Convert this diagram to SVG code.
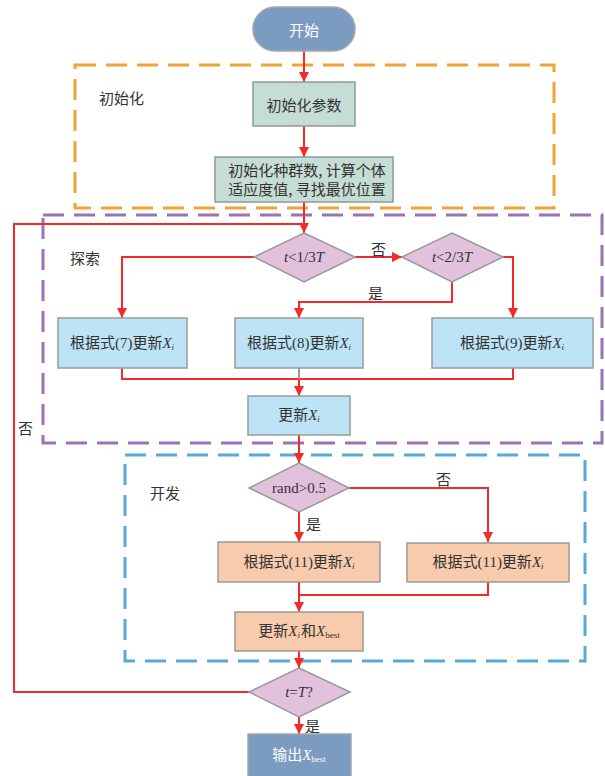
<svg xmlns="http://www.w3.org/2000/svg" width="605" height="776" viewBox="0 0 605 776">
<defs>
<marker id="arr" viewBox="0 0 10 10" refX="10" refY="5" markerWidth="10" markerHeight="10" markerUnits="userSpaceOnUse" orient="auto">
<path d="M0,0 L10,5 L0,10 z" fill="#f22a2a"/>
</marker>
<style>
text{font-family:"Liberation Serif","Noto Sans CJK SC",serif;font-size:15px;fill:#333;text-anchor:middle;dominant-baseline:central}
.lbl{font-family:"Noto Sans CJK SC",sans-serif;font-size:15px;text-anchor:start}
.cn{font-family:"Noto Sans CJK SC",sans-serif}
.it{font-style:italic}
.sub{font-size:9px}
.w{fill:#fff}
.term{fill:#7b9bc0;stroke:#a6a6a6;stroke-width:1.5}
.green{fill:#c6ddd5;stroke:#8e9a96;stroke-width:1.5}
.blue{fill:#bde3f6;stroke:#9a9a9a;stroke-width:1.5}
.orange{fill:#f7cbac;stroke:#9a9a9a;stroke-width:1.5}
.dia{fill:#e2c1dd;stroke:#9a9a9a;stroke-width:1.5}
.frame{fill:none;stroke-width:3;stroke-dasharray:21 10}
.c{fill:none;stroke:#f22a2a;stroke-width:2}
</style>
</defs>
<rect width="605" height="776" fill="#fff"/>

<g id="frames">
<rect x="75" y="65" width="479" height="143" class="frame" stroke="#f0a434"/>
<rect x="43" y="215" width="559" height="228" class="frame" stroke="#9b73b4"/>
<rect x="125" y="455" width="460" height="206" class="frame" stroke="#56abd6"/>
<text class="lbl" x="99" y="97">初始化</text>
<text class="lbl" x="70" y="257">探索</text>
<text class="lbl" x="150" y="492">开发</text>
</g>

<g id="connectors">
<line x1="304" y1="51" x2="304" y2="82" class="c" marker-end="url(#arr)"/>
<line x1="304" y1="126" x2="304" y2="157" class="c" marker-end="url(#arr)"/>
<line x1="304" y1="202" x2="304" y2="233" class="c" marker-end="url(#arr)"/>
<polyline points="249,692 14,692 14,224 304,224" class="c"/>
<polyline points="254,257 122,257 122,318" class="c" marker-end="url(#arr)"/>
<line x1="355" y1="257" x2="402" y2="257" class="c" marker-end="url(#arr)"/>
<polyline points="452,282 452,302 299,302 299,318" class="c" marker-end="url(#arr)"/>
<polyline points="503,257 513,257 513,318" class="c" marker-end="url(#arr)"/>
<polyline points="122,368 122,379 513,379 513,368" class="c"/>
<line x1="299" y1="368" x2="299" y2="379" stroke="#9a9a9a" stroke-width="2"/>
<line x1="299" y1="379" x2="299" y2="396" class="c" marker-end="url(#arr)"/>
<line x1="299" y1="435" x2="299" y2="463" class="c" marker-end="url(#arr)"/>
<line x1="299" y1="512" x2="299" y2="542" class="c" marker-end="url(#arr)"/>
<polyline points="349,488 488,488 488,542" class="c" marker-end="url(#arr)"/>
<polyline points="299,582 299,595 488,595 488,582" class="c"/>
<line x1="299" y1="595" x2="299" y2="612" class="c" marker-end="url(#arr)"/>
<line x1="299" y1="651" x2="299" y2="668" class="c" marker-end="url(#arr)"/>
<line x1="299" y1="717" x2="299" y2="734" class="c" marker-end="url(#arr)"/>
<text class="lbl" x="371" y="248">否</text>
<text class="lbl" x="368" y="292">是</text>
<text class="lbl" x="436" y="478">否</text>
<text class="lbl" x="306" y="523">是</text>
<text class="lbl" x="18" y="427">否</text>
<text class="lbl" x="305" y="725">是</text>
</g>

<g id="start">
<rect x="253" y="7" width="102" height="44" rx="22" class="term"/>
<text x="304" y="29" class="cn w">开始</text>
</g>
<g id="init-params">
<rect x="253" y="82" width="102" height="44" class="green"/>
<text x="304" y="104" class="cn">初始化参数</text>
</g>
<g id="init-pop">
<rect x="215" y="157" width="178" height="45" class="green"/>
<text x="307" y="169" class="cn">初始化种群数, 计算个体</text>
<text x="307" y="188" class="cn">适应度值, 寻找最优位置</text>
</g>
<g id="d1">
<polygon points="304,233 355,257 304,282 254,257" class="dia"/>
<text x="304" y="257"><tspan class="it">t</tspan>&lt;1/3<tspan class="it">T</tspan></text>
</g>
<g id="d2">
<polygon points="452,233 503,257 452,282 402,257" class="dia"/>
<text x="452" y="257"><tspan class="it">t</tspan>&lt;2/3<tspan class="it">T</tspan></text>
</g>
<g id="u7">
<rect x="58" y="318" width="129" height="50" class="blue"/>
<text x="122" y="343">根据式(7)更新<tspan class="it">X</tspan><tspan class="it sub" dy="4">i</tspan></text>
</g>
<g id="u8">
<rect x="235" y="318" width="128" height="50" class="blue"/>
<text x="299" y="343">根据式(8)更新<tspan class="it">X</tspan><tspan class="it sub" dy="4">i</tspan></text>
</g>
<g id="u9">
<rect x="432" y="318" width="161" height="50" class="blue"/>
<text x="512" y="343">根据式(9)更新<tspan class="it">X</tspan><tspan class="it sub" dy="4">i</tspan></text>
</g>
<g id="upd">
<rect x="248" y="396" width="102" height="39" class="blue"/>
<text x="299" y="415">更新<tspan class="it">X</tspan><tspan class="it sub" dy="4">i</tspan></text>
</g>
<g id="d3">
<polygon points="299,463 349,488 299,512 249,488" class="dia"/>
<text x="299" y="488">rand&gt;0.5</text>
</g>
<g id="u11a">
<rect x="218" y="542" width="162" height="40" class="orange"/>
<text x="299" y="562">根据式(11)更新<tspan class="it">X</tspan><tspan class="it sub" dy="4">i</tspan></text>
</g>
<g id="u11b">
<rect x="407" y="543" width="162" height="39" class="orange"/>
<text x="488" y="562">根据式(11)更新<tspan class="it">X</tspan><tspan class="it sub" dy="4">i</tspan></text>
</g>
<g id="updbest">
<rect x="235" y="612" width="128" height="39" class="orange"/>
<text x="299" y="631">更新<tspan class="it">X</tspan><tspan class="it sub" dy="4">i</tspan><tspan dx="1" dy="-4">和</tspan><tspan class="it">X</tspan><tspan class="sub" dy="4">best</tspan></text>
</g>
<g id="d4">
<polygon points="299,668 350,692 299,717 249,692" class="dia"/>
<text x="299" y="692"><tspan class="it">t</tspan>=<tspan class="it">T</tspan>?</text>
</g>
<g id="output">
<rect x="248" y="734" width="103" height="46" class="term"/>
<text x="299" y="755" class="w">输出<tspan class="it w">X</tspan><tspan class="sub w" dy="4">best</tspan></text>
</g>
</svg>
